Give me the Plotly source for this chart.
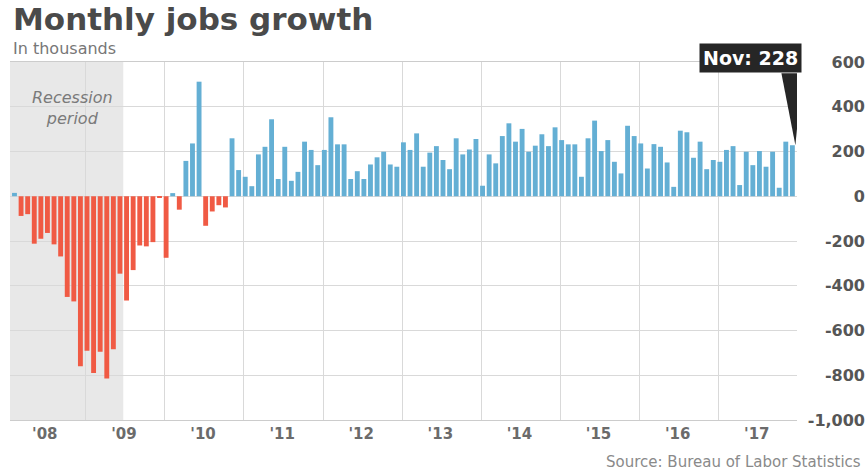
import plotly.graph_objects as go

# Monthly change in nonfarm payrolls, thousands (Jan 2008 - Nov 2017)
jobs_2008 = [15, -88, -80, -212, -190, -164, -215, -269, -450, -470, -760, -690]
jobs_2009 = [-790, -695, -815, -684, -346, -466, -330, -220, -224, -205, -5, -275]
jobs_2010 = [14, -60, 158, 236, 512, -132, -68, -40, -50, 259, 117, 87]
jobs_2011 = [45, 187, 221, 344, 77, 221, 69, 109, 244, 207, 139, 207]
jobs_2012 = [353, 232, 232, 77, 112, 77, 142, 174, 199, 142, 132, 241]
jobs_2013 = [207, 281, 132, 195, 224, 162, 121, 259, 187, 209, 256, 47]
jobs_2014 = [187, 147, 269, 326, 244, 301, 199, 226, 277, 224, 308, 251]
jobs_2015 = [232, 232, 87, 259, 338, 202, 251, 154, 102, 315, 269, 236]
jobs_2016 = [124, 233, 221, 151, 42, 293, 286, 172, 244, 121, 162, 154]
jobs_2017 = [207, 224, 50, 199, 139, 202, 132, 199, 38, 244, 228]

year_labels = ["'08", "'09", "'10", "'11", "'12", "'13", "'14", "'15", "'16", "'17"]
y_ticks = [-1000, -800, -600, -400, -200, 0, 200, 400, 600]
y_tick_text = ["-1,000", "-800", "-600", "-400", "-200", "0", "200", "400", "600"]

# recession: Dec 2007 - Jun 2009, as month offsets from Jan 2008
recession_start = -1
recession_end = 17

jobs = (jobs_2008 + jobs_2009 + jobs_2010 + jobs_2011 + jobs_2012 +
        jobs_2013 + jobs_2014 + jobs_2015 + jobs_2016 + jobs_2017)
months = list(range(len(jobs)))
last = months[-1]

BLUE = "#64afd4"
RED = "#f05a44"
GRID = "#d9d9d9"
FRAME = "#cccccc"
colors = [BLUE if v >= 0 else RED for v in jobs]

fig = go.Figure()
fig.add_trace(go.Bar(
    x=months, y=jobs, marker=dict(color=colors, line=dict(width=0)),
    width=0.74, hoverinfo="skip", showlegend=False,
))

year_centers = [12 * i + 4.6 for i in range(len(year_labels))]
year_bounds = [12 * i - 1.2 for i in range(1, len(year_labels))]

fig.update_layout(
    width=868, height=470,
    margin=dict(l=10, r=3, t=62, b=50),
    paper_bgcolor="white", plot_bgcolor="white",
    bargap=0.26,
    xaxis=dict(
        domain=[0, 787 / 855], range=[-0.68, 118.7],
        tickmode="array", tickvals=year_centers, ticktext=year_labels,
        ticks="", showgrid=False, zeroline=False,
        showline=True, linecolor=FRAME, linewidth=1, mirror=True,
        tickfont=dict(family="DejaVu Sans", size=15, color="#6b6b6b", weight="bold"),
        ticklabelstandoff=0,
        minor=dict(tickmode="array", tickvals=year_bounds, showgrid=True,
                   gridcolor=GRID, gridwidth=1, ticks=""),
    ),
    yaxis=dict(
        range=[-1000, 600], anchor="free", position=1, side="left",
        tickmode="array", tickvals=y_ticks, ticktext=y_tick_text,
        ticks="", showgrid=True, gridcolor=GRID, gridwidth=1,
        zeroline=False, showline=False,
        tickfont=dict(family="DejaVu Sans", size=16, color="#565656", weight="bold"),
    ),
    yaxis2=dict(
        range=[-1000, 600], overlaying="y", anchor="x", side="right",
        tickmode="array", tickvals=y_ticks, showticklabels=False,
        ticks="outside", ticklen=5, tickcolor=GRID,
        showgrid=False, zeroline=False,
        showline=True, linecolor=FRAME, linewidth=1, mirror=True,
    ),
)

# recession shading
fig.add_shape(type="rect", xref="x", yref="y",
              x0=recession_start, x1=recession_end - 0.5, y0=-1000, y1=600,
              fillcolor="#e8e8e8", line=dict(width=0), layer="below")

fig.add_annotation(
    x=(recession_start + recession_end) / 2 + 0.8, y=395, xref="x", yref="y",
    text="Recession<br>period", showarrow=False,
    font=dict(family="DejaVu Sans", size=16, color="#7a7a7a", style="italic"),
)

# callout for the latest month
fig.add_annotation(
    x=last, y=jobs[-1], xref="x", yref="y",
    text=f"<b>Nov: {jobs[-1]}</b>", showarrow=False,
    xanchor="right", yanchor="bottom", xshift=10, yshift=72,
    bgcolor="#262626", borderpad=3,
    font=dict(family="DejaVu Sans", size=19, color="white"),
)
fig.add_shape(type="path", xref="x", yref="y",
              xsizemode="pixel", ysizemode="pixel",
              xanchor=last, yanchor=jobs[-1],
              path="M -11 72 L 10 72 L 3 0 Z",
              fillcolor="#262626", line=dict(width=0), layer="above")

# titles and source
fig.add_annotation(
    x=0, y=1, xref="paper", yref="paper", xanchor="left", yanchor="middle",
    xshift=1, yshift=43, text="<b>Monthly jobs growth</b>", showarrow=False,
    font=dict(family="DejaVu Sans", size=31, color="#4a4a4a"),
)
fig.add_annotation(
    x=0, y=1, xref="paper", yref="paper", xanchor="left", yanchor="middle",
    xshift=1, yshift=14, text="In thousands", showarrow=False,
    font=dict(family="DejaVu Sans", size=16, color="#777777"),
)
fig.add_annotation(
    x=1, y=0, xref="paper", yref="paper", xanchor="right", yanchor="middle",
    xshift=-2, yshift=-42, text="Source: Bureau of Labor Statistics", showarrow=False,
    font=dict(family="DejaVu Sans", size=15, color="#8a8a8a"),
)

fig.write_html("out.html")
